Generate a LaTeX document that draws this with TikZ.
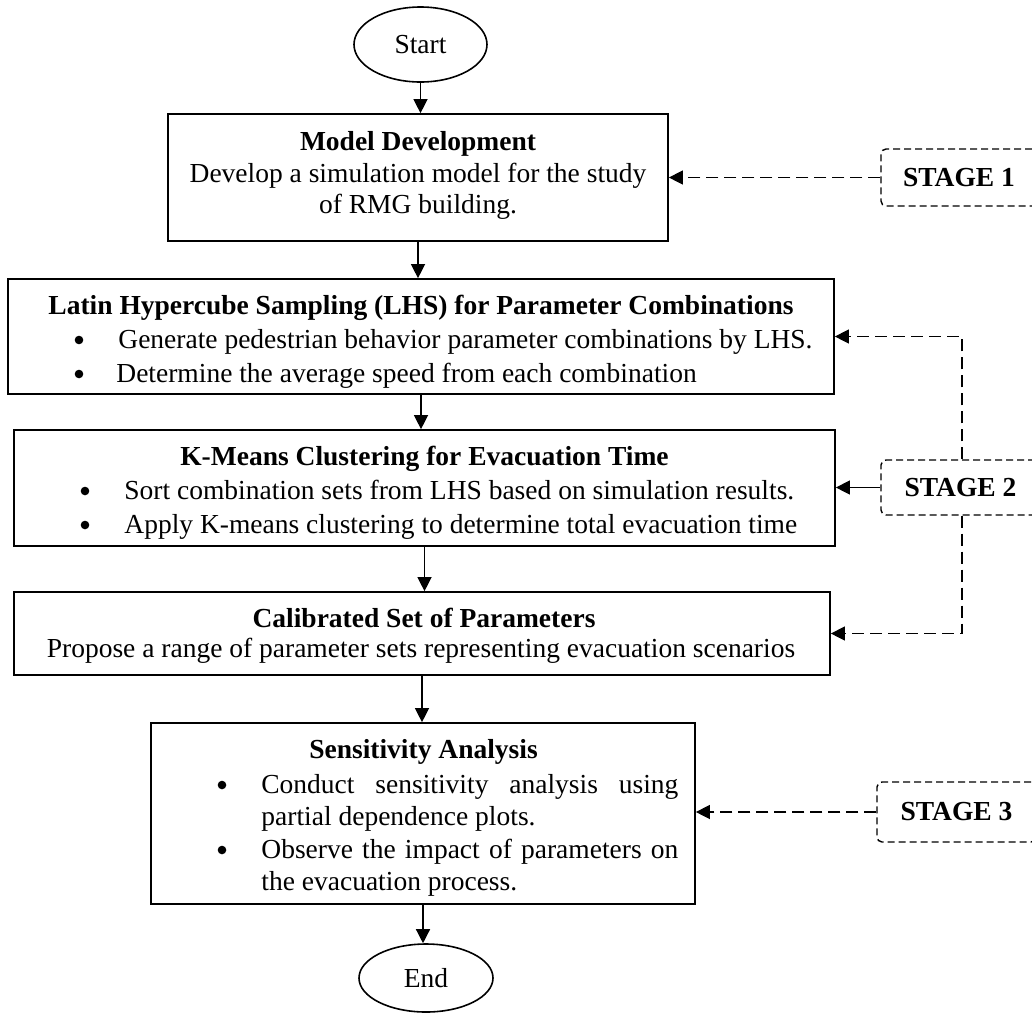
\documentclass[tikz,border=0pt]{standalone}
\usepackage{fontspec}
\setmainfont{Liberation Serif}
\usetikzlibrary{arrows.meta,shapes.geometric}
\begin{document}
\begin{tikzpicture}[x=0.5pt,y=-0.5pt,
  font=\fontsize{13.75}{16.5}\selectfont,
  box/.style={draw,line width=0.85pt,inner sep=0pt,rectangle},
  term/.style={draw,ellipse,line width=0.8pt,inner sep=0pt},
  stagebox/.style={draw,line width=0.7pt,dash pattern=on 3.5pt off 2pt,rounded corners=2.5pt,inner sep=0pt,font=\fontsize{13.75}{16.5}\selectfont\bfseries},
  txt/.style={inner sep=0pt,anchor=base},
  ltxt/.style={inner sep=0pt,anchor=base west},
  dot/.style={circle,fill,inner sep=0pt,minimum size=4.3pt},
  conn/.style={line width=0.65pt,-{Triangle[length=7pt,width=7pt]}},
  dconn/.style={conn,dash pattern=on 6pt off 3pt},
]
\useasboundingbox (0,0) rectangle (1032,1013);
\begin{scope}
\clip (0,0) rectangle (1032,1013);
% terminals
\node[term,minimum width=66.5pt,minimum height=37.5pt] (start) at (420.5,44.5) {Start};
\node[term,minimum width=67pt,minimum height=34pt] (end) at (426,978) {End};
% Model development
\node[box,minimum width=250pt,minimum height=63.5pt] (model) at (418,177.5) {};
\node[txt] (modelT) at (418,150) {\textbf{Model Development}};
\node[txt] (modelA) at (418,182) {Develop a simulation model for the study};
\node[txt] (modelB) at (418,213) {of RMG building.};
% LHS
\node[box,minimum width=413pt,minimum height=57.5pt] (lhs) at (421,336.5) {};
\node[txt] (lhsT) at (421,314) {\textbf{Latin Hypercube Sampling (LHS) for Parameter Combinations}};
\node[dot] (lhsD1) at (79,340) {};
\node[ltxt] (lhsA) at (118,348) {Generate pedestrian behavior parameter combinations by LHS.};
\node[dot] (lhsD2) at (79,374) {};
\node[ltxt] (lhsB) at (116,382) {Determine the average speed from each combination};
% K-means
\node[box,minimum width=410.5pt,minimum height=58pt] (kmeans) at (424.5,488) {};
\node[txt] (kmT) at (424.5,465) {\textbf{K-Means Clustering for Evacuation Time}};
\node[dot] (kmD1) at (85,491) {};
\node[ltxt] (kmA) at (124,499) {Sort combination sets from LHS based on simulation results.};
\node[dot] (kmD2) at (85,525) {};
\node[ltxt] (kmB) at (124,533) {Apply K-means clustering to determine total evacuation time};
% Calibrated
\node[box,minimum width=408pt,minimum height=41.5pt] (cal) at (422,633.5) {};
\node[txt] (calT) at (424,627) {\textbf{Calibrated Set of Parameters}};
\node[txt] (calA) at (421,657) {Propose a range of parameter sets representing evacuation scenarios};
% Sensitivity
\node[box,minimum width=272pt,minimum height=90.5pt] (sens) at (423,813.5) {};
\node[txt] (sensT) at (423.5,758) {\textbf{Sensitivity Analysis}};
\node[dot] (sensD1) at (222,785) {};
\node[ltxt] (sensA) at (261,793) {\makebox[208.5pt][s]{Conduct sensitivity analysis using}};
\node[ltxt] (sensB) at (261,825.5) {partial dependence plots.};
\node[dot] (sensD2) at (222,850) {};
\node[ltxt] (sensC) at (261,858) {\makebox[208.5pt][s]{Observe the impact of parameters on}};
\node[ltxt] (sensE) at (261,890.5) {the evacuation process.};
% stages
\node[stagebox,minimum width=78pt,minimum height=28.5pt] (stage1) at (959,177.5) {STAGE 1};
\node[stagebox,minimum width=79.5pt,minimum height=27.5pt] (stage2) at (960.5,487.5) {STAGE 2};
\node[stagebox,minimum width=79.5pt,minimum height=30pt] (stage3) at (956.5,812) {STAGE 3};
% main flow
\draw[conn] (start.south) -- (start.south |- model.north);
\draw[conn] (model.south) -- (model.south |- lhs.north);
\draw[conn] (lhs.south) -- (lhs.south |- kmeans.north);
\draw[conn] (kmeans.south) -- (kmeans.south |- cal.north);
\draw[conn] (cal.south) -- (cal.south |- sens.north);
\draw[conn] (sens.south) -- (sens.south |- end.north);
% stage links
\draw[dconn] (stage1.west) -- (stage1.west -| model.east);
\draw[conn] (stage2.west) -- (stage2.west -| kmeans.east);
\draw[dconn] ([xshift=0.75pt]stage2.north) |- (lhs.east);
\draw[dconn] ([xshift=0.75pt]stage2.south) |- (cal.east);
\draw[dconn] (stage3.west) -- (stage3.west -| sens.east);
\end{scope}
\end{tikzpicture}
\end{document}
